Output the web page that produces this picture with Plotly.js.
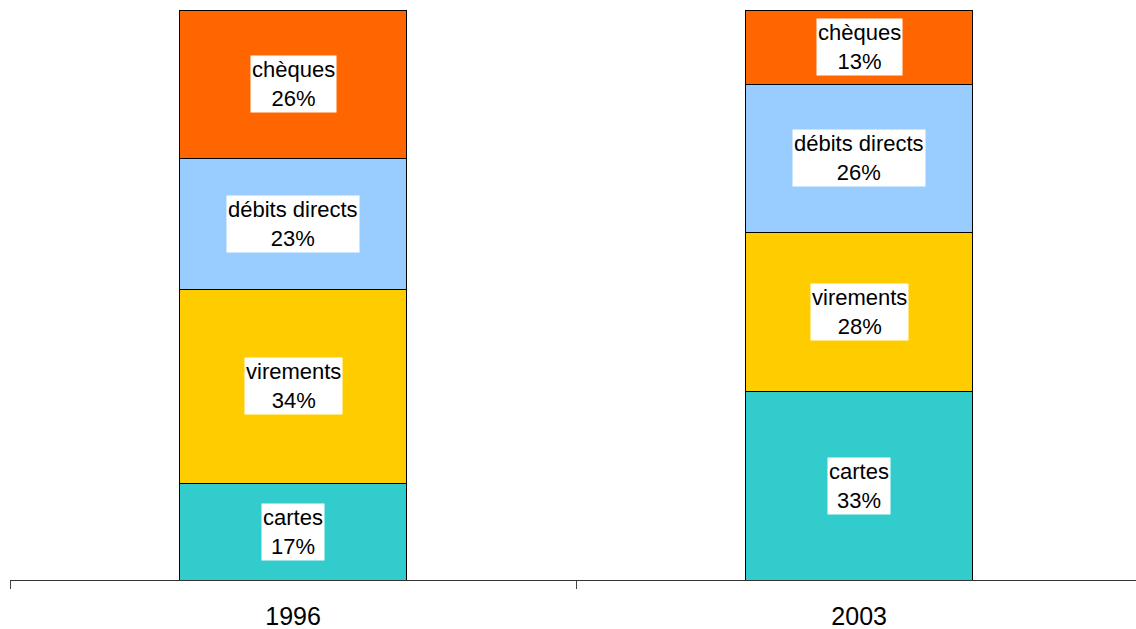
<!DOCTYPE html>
<html>
<head>
<meta charset="utf-8">
<script src="https://cdn.plot.ly/plotly-3.0.1.min.js"></script>
<style>
html,body{margin:0;padding:0;background:#fff;overflow:hidden;}
#chart{width:1136px;height:629px;}
</style>
</head>
<body>
<div id="chart"></div>
<script>
const years = ["1996", "2003"];
const seriesNames = ["cartes", "virements", "débits directs", "chèques"];
const cartes = [17, 33];
const virements = [34, 28];
const debitsDirects = [23, 26];
const cheques = [26, 13];
const colors = ["#33CCCC", "#FFCC00", "#99CCFF", "#FF6600"];

const seriesValues = [cartes, virements, debitsDirects, cheques];

const traces = seriesValues.map((vals, i) => ({
  type: "bar",
  name: seriesNames[i],
  x: years,
  y: vals,
  marker: {color: colors[i], line: {color: "#000", width: 1}},
  hoverinfo: "none"
}));

const annotations = [];
years.forEach((yr, j) => {
  let base = 0;
  seriesValues.forEach((vals, i) => {
    const v = vals[j];
    annotations.push({
      x: j, xref: "x",
      y: base + v / 2, yref: "y",
      text: seriesNames[i] + "<br>" + v + "%",
      showarrow: false,
      bgcolor: "#FFFFFF",
      borderpad: 1,
      font: {family: "Liberation Sans, Arial, sans-serif", size: 22, color: "#000"}
    });
    base += v;
  });
});

const layout = {
  width: 1136, height: 629,
  margin: {l: 10, r: 0, t: 10, b: 49},
  paper_bgcolor: "#fff", plot_bgcolor: "#fff",
  barmode: "stack",
  bargap: 0.6,
  showlegend: false,
  xaxis: {
    type: "category",
    range: [-0.5, 1.489],
    tickson: "boundaries",
    ticks: "outside", ticklen: 8, tickcolor: "#444", tickwidth: 1,
    ticklabelstandoff: 14,
    showline: true, linecolor: "#333", linewidth: 1,
    showgrid: false, zeroline: false,
    tickfont: {family: "Liberation Sans, Arial, sans-serif", size: 25, color: "#000"}
  },
  yaxis: {
    range: [0, 100],
    showticklabels: false, ticks: "",
    showline: false,
    showgrid: false, zeroline: false
  },
  annotations: annotations
};

Plotly.newPlot("chart", traces, layout, {displayModeBar: false, staticPlot: true});
</script>
</body>
</html>
